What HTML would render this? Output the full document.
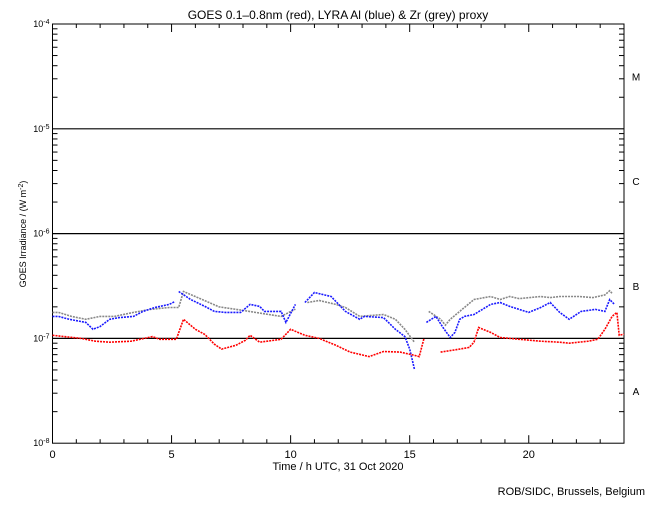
<!DOCTYPE html>
<html><head><meta charset="utf-8"><style>
body{margin:0;background:#fff;width:650px;height:500px;overflow:hidden}
svg text{font-family:"Liberation Sans",sans-serif;fill:#000}
</style></head><body>
<svg id="chart" width="650" height="500" viewBox="0 0 650 500" xmlns="http://www.w3.org/2000/svg">
<text x="338" y="19" font-size="12" text-anchor="middle">GOES 0.1–0.8nm (red), LYRA Al (blue) &amp; Zr (grey) proxy</text>
<text x="338" y="470" font-size="11" text-anchor="middle">Time / h UTC, 31 Oct 2020</text>
<text transform="translate(26,234) rotate(-90)" font-size="9" text-anchor="middle">GOES Irradiance / (W m<tspan baseline-shift="super" font-size="7">-2</tspan>)</text>
<text x="645" y="495" font-size="11" text-anchor="end">ROB/SIDC, Brussels, Belgium</text>
<g id="axes"></g>
<g id="series"></g>
</svg>
<script>
const xTicks=[0,5,10,15,20];
const yDecades=[-8,-7,-6,-5,-4];
const classLabels=["A","B","C","M"];
const redHours=[0,1.2,1.8,2.4,3.3,4.2,4.5,5.2,5.5,6.0,6.4,6.8,7.1,7.7,8.1,8.3,8.7,9.6,10.0,10.6,11.2,11.9,12.5,13.3,13.9,14.6,15.2,15.4,15.6,15.8,16.3,17.1,17.5,17.7,17.9,18.4,18.8,19.6,20.5,21.3,21.7,22.5,22.9,23.2,23.5,23.7,23.8,24.0];
const redValues=[1.07,1.0,0.94,0.92,0.94,1.04,0.98,0.98,1.52,1.22,1.09,0.88,0.79,0.86,0.96,1.07,0.92,0.98,1.22,1.07,1.0,0.86,0.74,0.67,0.75,0.74,0.69,0.67,1.0,null,0.74,0.79,0.82,0.92,1.27,1.14,1.02,0.98,0.94,0.92,0.90,0.94,0.98,1.22,1.62,1.77,1.07,1.1];
const blueHours=[0,0.25,0.7,1.4,1.7,2.0,2.4,2.8,3.4,3.8,4.3,4.9,5.15,null,5.3,5.8,6.4,6.8,7.25,7.9,8.3,8.7,8.9,9.6,9.8,10.2,null,10.6,11.0,11.7,12.3,12.9,13.1,13.9,14.4,14.8,15.0,15.2,null,15.7,16.1,16.4,16.7,16.9,17.1,17.3,17.7,18.4,18.8,19.2,19.6,20.0,20.5,20.9,21.3,21.7,22.2,22.8,23.2,23.4,23.6];
const blueValues=[1.62,1.62,1.52,1.42,1.22,1.30,1.52,1.58,1.62,1.81,1.97,2.11,2.25,null,2.80,2.35,2.02,1.81,1.77,1.77,2.11,2.02,1.81,1.81,1.42,2.11,null,2.20,2.74,2.51,1.81,1.52,1.62,1.58,1.22,1.04,0.79,0.51,null,1.42,1.62,1.27,1.02,1.14,1.52,1.62,1.69,2.11,2.20,2.02,1.89,1.77,1.97,2.20,1.77,1.52,1.81,1.89,1.81,2.35,2.11];
const greyHours=[0,0.25,0.8,1.4,2.0,2.6,3.4,4.1,4.9,5.3,5.5,6.2,7.0,8.0,9.0,9.6,10.2,null,10.7,11.2,11.9,12.3,12.9,13.9,14.4,14.8,15.2,null,15.8,16.3,16.5,16.7,17.1,17.7,18.4,18.8,19.2,19.6,20.5,20.9,21.3,22.1,22.7,23.2,23.4,23.5];
const greyValues=[1.77,1.77,1.62,1.52,1.62,1.62,1.77,1.89,1.97,1.97,2.80,2.40,2.00,1.85,1.70,1.62,1.90,null,2.20,2.30,2.11,1.97,1.62,1.69,1.52,1.22,0.92,null,1.81,1.52,1.34,1.52,1.81,2.35,2.51,2.35,2.51,2.40,2.51,2.45,2.51,2.51,2.45,2.60,2.85,2.69];

const X0=52.5,X1=624,Y4=24,YD=104.8;
const xs=h=>X0+(X1-X0)*h/24;
const ys=lg=>Y4+(-4-lg)*YD;
const yv=v=>ys(Math.log10(v*1e-7));
const NS="http://www.w3.org/2000/svg";
function mk(tag,attrs,parent){const e=document.createElementNS(NS,tag);for(const k in attrs)e.setAttribute(k,attrs[k]);parent.appendChild(e);return e;}
const ax=document.getElementById('axes');
const frame=mk('rect',{x:X0,y:Y4,width:X1-X0,height:ys(-8)-Y4,fill:'none',stroke:'#000','stroke-width':1},ax);


for(let h=0;h<=24;h++){
  const major=xTicks.includes(h);const L=major?8:4;
  const t1=mk('line',{x1:xs(h),x2:xs(h),y1:ys(-8),y2:ys(-8)-L,stroke:'#000'},ax);
  
  
  const t2=mk('line',{x1:xs(h),x2:xs(h),y1:Y4,y2:Y4+L,stroke:'#000'},ax);
  
  
}
xTicks.forEach(h=>{const t=mk('text',{x:xs(h),y:ys(-8)+15,'font-size':11,'text-anchor':'middle'},ax);t.textContent=h;

});
yDecades.forEach((d,i)=>{
  const t=mk('text',{x:X0-3,y:ys(d)+3,'font-size':9,'text-anchor':'end'},ax);
  t.innerHTML='10<tspan baseline-shift="super" font-size="7">'+d+'</tspan>';
  
  
  if(d>-8&&d<-4){const g=mk('line',{x1:X0,x2:X1,y1:ys(d),y2:ys(d),stroke:'#000','stroke-width':1.2},ax);
  
  }
  if(d<-4){for(let m=2;m<=9;m++){const y=ys(d+Math.log10(m));
    const a=mk('line',{x1:X0,x2:X0+5,y1:y,y2:y,stroke:'#000'},ax);
    
    
    const b=mk('line',{x1:X1,x2:X1-5,y1:y,y2:y,stroke:'#000'},ax);
    
    }}
});
classLabels.forEach((c,i)=>{const t=mk('text',{x:636,y:ys(-7.5+i)+4,'font-size':10,'text-anchor':'middle'},ax);t.textContent=c;

});
const sg=document.getElementById('series');
function draw(hours,vals,color,name,w){
  let segs=[],cur=[];
  hours.forEach((h,i)=>{if(h===null||vals[i]===null){if(cur.length)segs.push(cur);cur=[];}else cur.push(xs(h).toFixed(1)+','+yv(vals[i]).toFixed(1));});
  if(cur.length)segs.push(cur);
  segs.forEach(s=>{const p=mk('polyline',{points:s.join(' '),fill:'none',stroke:color,'stroke-width':w,'stroke-dasharray':'2 1'},sg);
  
  });
}
draw(greyHours,greyValues,'#888','zr-proxy-series',1.6);
draw(blueHours,blueValues,'#1a1aff','al-proxy-series',1.6);
draw(redHours,redValues,'#f00','goes-series',1.6);
</script>
</body></html>
